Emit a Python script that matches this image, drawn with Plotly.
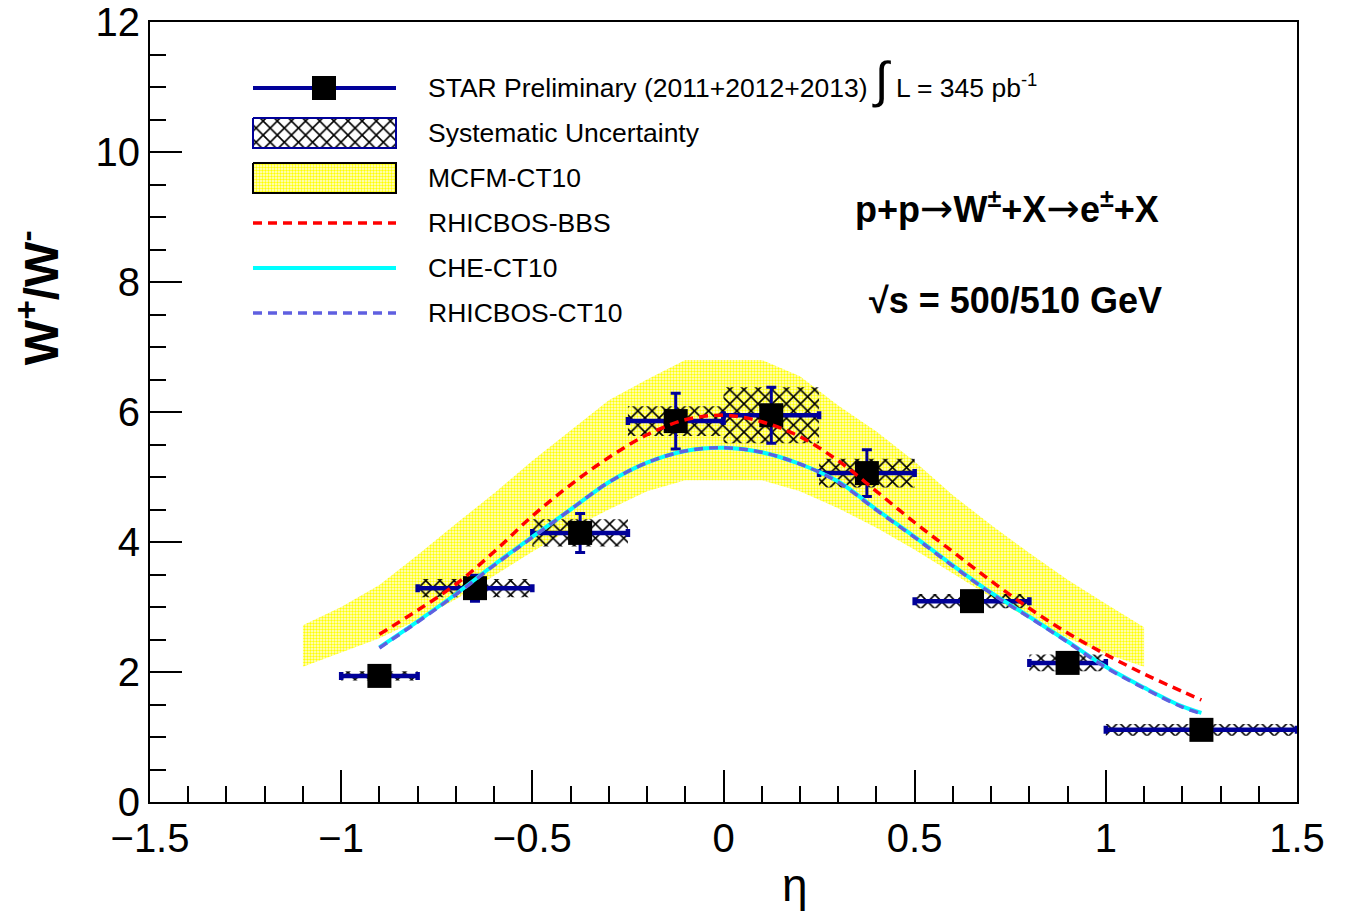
import plotly.graph_objects as go

# ---------------- data ----------------
eta = [-0.9, -0.65, -0.375, -0.125, 0.125, 0.375, 0.65, 0.9, 1.25]
ratio = [1.94, 3.29, 4.14, 5.86, 5.95, 5.06, 3.09, 2.14, 1.11]
bin_halfwidth = [0.1, 0.15, 0.125, 0.125, 0.125, 0.125, 0.15, 0.1, 0.25]
stat_err = [0.10, 0.20, 0.30, 0.43, 0.43, 0.36, 0.12, 0.12, 0.08]
sys_err = [0.07, 0.14, 0.21, 0.23, 0.43, 0.22, 0.11, 0.13, 0.09]

band_eta = [-1.1, -1.0, -0.9, -0.8, -0.7, -0.6, -0.5, -0.4, -0.3, -0.2, -0.1, 0.0,
            0.1, 0.2, 0.3, 0.4, 0.5, 0.6, 0.7, 0.8, 0.9, 1.0, 1.1]
mcfm_up = [2.72, 3.0, 3.34, 3.8, 4.28, 4.75, 5.25, 5.72, 6.18, 6.5, 6.8, 6.8,
           6.8, 6.55, 6.1, 5.7, 5.24, 4.72, 4.26, 3.83, 3.42, 3.05, 2.69]
mcfm_lo = [2.08, 2.3, 2.52, 2.8, 3.12, 3.48, 3.85, 4.2, 4.5, 4.78, 4.95, 4.95,
           4.95, 4.78, 4.52, 4.22, 3.88, 3.52, 3.15, 2.82, 2.52, 2.28, 2.08]

curve_eta = [-0.9, -0.8, -0.7, -0.6, -0.5, -0.4, -0.3, -0.2, -0.1, 0.0, 0.1, 0.2,
             0.3, 0.4, 0.5, 0.6, 0.7, 0.8, 0.9, 1.0, 1.1, 1.2, 1.25]
rhicbos_bbs = [2.58, 2.95, 3.35, 3.85, 4.4, 4.88, 5.3, 5.65, 5.88, 5.95, 5.85, 5.62,
               5.25, 4.78, 4.3, 3.85, 3.4, 2.98, 2.6, 2.27, 1.97, 1.7, 1.57]
che_ct10 = [2.38, 2.78, 3.2, 3.65, 4.08, 4.5, 4.92, 5.22, 5.4, 5.45, 5.38, 5.2,
            4.93, 4.5, 4.08, 3.64, 3.22, 2.85, 2.47, 2.08, 1.76, 1.47, 1.37]
rhicbos_ct10 = [2.37, 2.77, 3.19, 3.64, 4.07, 4.5, 4.92, 5.22, 5.4, 5.45, 5.38, 5.2,
                4.92, 4.49, 4.07, 3.63, 3.21, 2.84, 2.46, 2.07, 1.75, 1.46, 1.36]

x_range = [-1.5, 1.5]
y_range = [0, 12]

NAVY = "#000099"
RED = "#ff0000"
CYAN = "#00ffff"
VIOLET = "#5f5fe0"
FONT = "Liberation Sans, Arial, Helvetica, sans-serif"
ARROW = "<span style=\"font-family:'DejaVu Sans';font-weight:normal;font-size:40px\">→</span>"

BAND_PATTERN = dict(shape=".", fgcolor="#ffff00", bgcolor="#fffde0", size=3, solidity=0.5,
                    fgopacity=1)
HATCH_PATTERN = dict(shape="x", fgcolor="black", bgcolor="rgba(0,0,0,0)", size=10,
                     solidity=0.3, fillmode="overlay", fgopacity=1)

fig = go.Figure()

# MCFM-CT10 band
fig.add_trace(go.Scatter(
    x=band_eta + band_eta[::-1], y=mcfm_up + mcfm_lo[::-1],
    fill="toself", mode="lines", line=dict(width=0, color="rgba(0,0,0,0)"),
    fillcolor="rgba(255,255,255,0)", fillpattern=BAND_PATTERN,
    showlegend=False, hoverinfo="skip"))

# Systematic uncertainty boxes (polygons built from the data arrays)
box_x, box_y = [], []
for e, r, w, s in zip(eta, ratio, bin_halfwidth, sys_err):
    box_x += [e - w, e + w, e + w, e - w, e - w, None]
    box_y += [r - s, r - s, r + s, r + s, r - s, None]
fig.add_trace(go.Scatter(
    x=box_x, y=box_y, fill="toself", mode="lines",
    line=dict(width=0, color="rgba(0,0,0,0)"),
    fillcolor="rgba(0,0,0,0)", fillpattern=HATCH_PATTERN,
    showlegend=False, hoverinfo="skip"))

# Data points
fig.add_trace(go.Scatter(
    x=eta, y=ratio, mode="markers",
    marker=dict(symbol="square", size=24, color="black"),
    error_y=dict(type="data", array=stat_err, color=NAVY, thickness=3, width=5),
    error_x=dict(type="data", array=bin_halfwidth, color=NAVY, thickness=4.5, width=4),
    showlegend=False))

# Theory curves
fig.add_trace(go.Scatter(x=curve_eta, y=rhicbos_bbs, mode="lines",
                         line=dict(color=RED, width=3.5, dash="9px,6px", shape="spline"),
                         showlegend=False))
fig.add_trace(go.Scatter(x=curve_eta, y=che_ct10, mode="lines",
                         line=dict(color=CYAN, width=4, shape="spline"),
                         showlegend=False))
fig.add_trace(go.Scatter(x=curve_eta, y=rhicbos_ct10, mode="lines",
                         line=dict(color=VIOLET, width=3.5, dash="9px,6px", shape="spline"),
                         showlegend=False))

# ---------------- hand-drawn legend (overlay axes in pixel-like units) ----------------
LEG_X0, LEG_X1, LEG_XM, LEG_TX = 253, 396, 324, 426
rows = [88, 133, 178, 223, 268, 313]
BOX_H = 15

fig.add_trace(go.Scatter(x=[LEG_X0, LEG_X1], y=[rows[0], rows[0]], mode="lines",
                         line=dict(color=NAVY, width=4), xaxis="x2", yaxis="y2",
                         showlegend=False, hoverinfo="skip"))
fig.add_trace(go.Scatter(x=[LEG_XM], y=[rows[0]], mode="markers",
                         marker=dict(symbol="square", size=24, color="black"),
                         xaxis="x2", yaxis="y2", showlegend=False, hoverinfo="skip"))
fig.add_trace(go.Scatter(
    x=[LEG_X0, LEG_X1, LEG_X1, LEG_X0, LEG_X0],
    y=[rows[1] - BOX_H, rows[1] - BOX_H, rows[1] + BOX_H, rows[1] + BOX_H, rows[1] - BOX_H],
    fill="toself", mode="lines", line=dict(color=NAVY, width=2),
    fillcolor="rgba(255,255,255,0)",
    fillpattern=dict(shape="x", fgcolor="black", bgcolor="white", size=10, solidity=0.3,
                     fgopacity=1),
    xaxis="x2", yaxis="y2", showlegend=False, hoverinfo="skip"))
fig.add_trace(go.Scatter(
    x=[LEG_X0, LEG_X1, LEG_X1, LEG_X0, LEG_X0],
    y=[rows[2] - BOX_H, rows[2] - BOX_H, rows[2] + BOX_H, rows[2] + BOX_H, rows[2] - BOX_H],
    fill="toself", mode="lines", line=dict(color="black", width=2),
    fillcolor="rgba(255,255,255,0)", fillpattern=BAND_PATTERN,
    xaxis="x2", yaxis="y2", showlegend=False, hoverinfo="skip"))
for row, col, dash, w in [(rows[3], RED, "9px,6px", 3.5), (rows[4], CYAN, "solid", 4),
                          (rows[5], VIOLET, "9px,6px", 3.5)]:
    fig.add_trace(go.Scatter(x=[LEG_X0, LEG_X1], y=[row, row], mode="lines",
                             line=dict(color=col, width=w, dash=dash),
                             xaxis="x2", yaxis="y2", showlegend=False, hoverinfo="skip"))

legend_texts = [
    "STAR Preliminary (2011+2012+2013) <span style='font-size:50px'>∫</span> L = 345 pb<sup>-1</sup>",
    "Systematic Uncertainty",
    "MCFM-CT10",
    "RHICBOS-BBS",
    "CHE-CT10",
    "RHICBOS-CT10",
]
row_text_shift = [-8, 0, 0, 0, 0, 0]
annotations = []
for row, dy, txt in zip(rows, row_text_shift, legend_texts):
    annotations.append(dict(x=LEG_TX, y=row + dy, xref="x2", yref="y2", text=txt,
                            showarrow=False, xanchor="left", yanchor="middle",
                            font=dict(family=FONT, size=26.5, color="black")))

annotations += [
    dict(x=1007, y=207, xref="x2", yref="y2",
         text="<b>p+p" + ARROW + "W<sup>±</sup>+X" + ARROW + "e<sup>±</sup>+X</b>",
         showarrow=False, xanchor="center", yanchor="middle",
         font=dict(family=FONT, size=36, color="black")),
    dict(x=1015, y=300, xref="x2", yref="y2",
         text="<b>√s = 500/510 GeV</b>", showarrow=False,
         xanchor="center", yanchor="middle", font=dict(family=FONT, size=36, color="black")),
    dict(x=0.5623, y=-0.106, xref="paper", yref="paper", text="η", showarrow=False,
         xanchor="center", yanchor="middle", font=dict(family=FONT, size=46, color="black")),
    dict(x=-0.0976, y=0.646, xref="paper", yref="paper", text="<b>W<sup>+</sup>/W<sup>-</sup></b>",
         showarrow=False, textangle=-90, xanchor="center", yanchor="middle",
         font=dict(family=FONT, size=48, color="black")),
]

axis_common = dict(showgrid=False, zeroline=False, showline=True, linecolor="black",
                   linewidth=2, mirror=True, ticks="inside", ticklen=32, tickwidth=1.5,
                   tickcolor="black", automargin=False,
                   tickfont=dict(family=FONT, size=40, color="black"))

fig.update_layout(
    width=1353, height=913,
    margin=dict(l=150, r=56, t=22, b=111, autoexpand=False),
    paper_bgcolor="white", plot_bgcolor="white",
    xaxis=dict(range=x_range, dtick=0.5, tick0=0,
               minor=dict(dtick=0.1, ticks="inside", ticklen=16, tickwidth=1.5, tickcolor="black"),
               **axis_common),
    yaxis=dict(range=y_range, dtick=2, tick0=0,
               minor=dict(dtick=0.5, ticks="inside", ticklen=16, tickwidth=1.5, tickcolor="black"),
               **axis_common),
    xaxis2=dict(range=[150, 1297], overlaying="x", anchor="y2", visible=False),
    yaxis2=dict(range=[802, 22], overlaying="y", anchor="x2", visible=False),
    annotations=annotations,
    showlegend=False,
)

fig.write_html("out.html", config={"displayModeBar": False},
               post_script="document.body.style.margin='0px';document.body.style.overflow='hidden';")
